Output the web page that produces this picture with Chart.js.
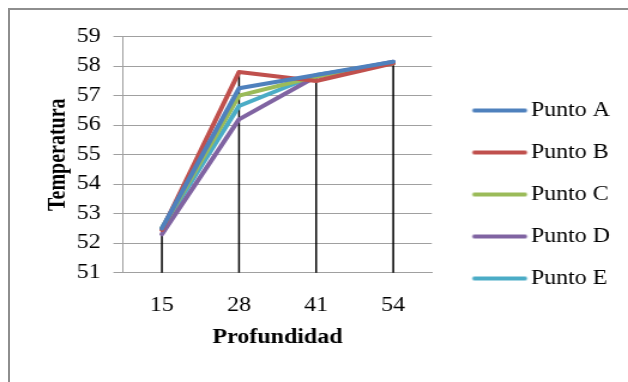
<!DOCTYPE html>
<html>
<head>
<meta charset="utf-8">
<script src="https://cdn.jsdelivr.net/npm/chart.js@4.4.1/dist/chart.umd.min.js"></script>
<style>
  html, body { margin: 0; padding: 0; background: #ffffff; overflow: hidden; }
  #wrap { position: relative; width: 628px; height: 382px; overflow: hidden; background: #ffffff; }
  #c { position: absolute; left: 0; top: 0; transform-origin: 0 0; transform: scaleX(1.1985); }
  #frame { position: absolute; left: 8px; top: 8px; width: 700px; height: 500px;
           border: 2px solid #8e8e8e; pointer-events: none; }
</style>
</head>
<body>
<div id="wrap">
  <canvas id="c" width="524" height="382" style="width:524px;height:382px"></canvas>
  <div id="frame"></div>
</div>
<script>
// Profundidad (categorías del eje X)
const profundidad = ['15', '28', '41', '54'];

// Temperatura medida en cada punto
const puntoA = [52.5, 57.25, 57.7, 58.15];
const puntoB = [52.45, 57.8, 57.5, 58.1];
const puntoC = [52.5, 57.0, 57.65, 58.1];
const puntoD = [52.3, 56.2, 57.65, 58.15];
const puntoE = [52.5, 56.65, 57.7, 58.1];

// Escala de temperatura
const tempMin = 51;
const tempMax = 59;
const tempStep = 1;

const FONT = "'Liberation Serif', serif";
const GRID = '#a0a0a0';

// Muestra de línea para la leyenda (trazo de 46 px que arranca en el borde izquierdo del recuadro)
function legendSwatch(color) {
  const cv = document.createElement('canvas');
  cv.width = 98;
  cv.height = 8;
  const g = cv.getContext('2d');
  g.strokeStyle = color;
  g.lineWidth = 4;
  g.lineCap = 'round';
  g.beginPath();
  g.moveTo(31.5, 4);
  g.lineTo(73.5, 4);
  g.stroke();
  return cv;
}

// Líneas verticales negras desde el valor más alto de cada profundidad hasta el eje
const dropLines = {
  id: 'dropLines',
  beforeDatasetsDraw(chart) {
    const { ctx, scales: { x, y } } = chart;
    const series = chart.data.datasets.map(d => d.data);
    ctx.save();
    ctx.strokeStyle = '#000000';
    ctx.lineWidth = 1.5;
    chart.data.labels.forEach((_, i) => {
      const top = Math.max(...series.map(s => s[i]));
      const px = x.getPixelForValue(i);
      ctx.beginPath();
      ctx.moveTo(px, y.getPixelForValue(top));
      ctx.lineTo(px, y.getPixelForValue(tempMin));
      ctx.stroke();
    });
    ctx.restore();
  }
};

const serie = (label, data, color) => ({
  label, data,
  borderColor: color,
  backgroundColor: color,
  borderWidth: 4,
  borderCapStyle: 'round',
  borderJoinStyle: 'round',
  pointRadius: 0,
  pointStyle: legendSwatch(color),
  tension: 0,
  yAxisID: 'y'
});

function draw() {
  new Chart(document.getElementById('c'), {
    type: 'line',
    data: {
      labels: profundidad,
      datasets: [
        serie('Punto A', puntoA, '#4f81bd'),
        serie('Punto B', puntoB, '#c0504d'),
        serie('Punto C', puntoC, '#9bbb59'),
        serie('Punto D', puntoD, '#8064a2'),
        serie('Punto E', puntoE, '#4bacc6')
      ]
    },
    options: {
      responsive: false,
      animation: false,
      devicePixelRatio: 1,
      layout: { padding: { top: 36.7, bottom: 29.7, left: 0, right: 5 } },
      plugins: {
        tooltip: { enabled: false },
        legend: {
          position: 'right',
          align: 'center',
          maxWidth: 200,
          labels: {
            usePointStyle: true,
            pointStyleWidth: 39,
            padding: 22,
            color: '#000000',
            font: { family: FONT, size: 20 }
          }
        }
      },
      scales: {
        x: {
          type: 'category',
          offset: true,
          grid: { display: false },
          border: { display: true, color: GRID, width: 1 },
          ticks: { color: '#000000', padding: 13, font: { family: FONT, size: 20 } },
          title: {
            display: true, text: 'Profundidad', color: '#000000',
            font: { family: FONT, size: 20, weight: 'bold' },
            padding: { top: 0, bottom: 2.3 }
          },
          afterFit(s) { s.height = 79.6; }
        },
        y: {
          type: 'linear',
          position: 'left',
          min: tempMin,
          max: tempMax,
          ticks: { stepSize: tempStep, color: '#000000', padding: 10.7, font: { family: FONT, size: 20 } },
          grid: { color: GRID, lineWidth: 1, tickLength: 8.3 },
          border: { color: GRID, width: 1 },
          title: {
            display: true, text: 'Temperatura', color: '#000000',
            font: { family: FONT, size: 20, weight: 'bold' },
            padding: { top: 36.5, bottom: 0 }
          },
          afterFit(s) { s.width = 102.9; }
        },
        y2: {
          type: 'linear',
          position: 'right',
          grid: { display: false, drawTicks: false },
          ticks: { display: false },
          border: { display: false },
          afterFit(s) { s.width = 11.6; }
        }
      }
    },
    plugins: [dropLines]
  });
}

Promise.all([
  document.fonts.load("20px 'Liberation Serif'"),
  document.fonts.load("bold 20px 'Liberation Serif'")
]).then(draw, draw);
</script>
</body>
</html>
